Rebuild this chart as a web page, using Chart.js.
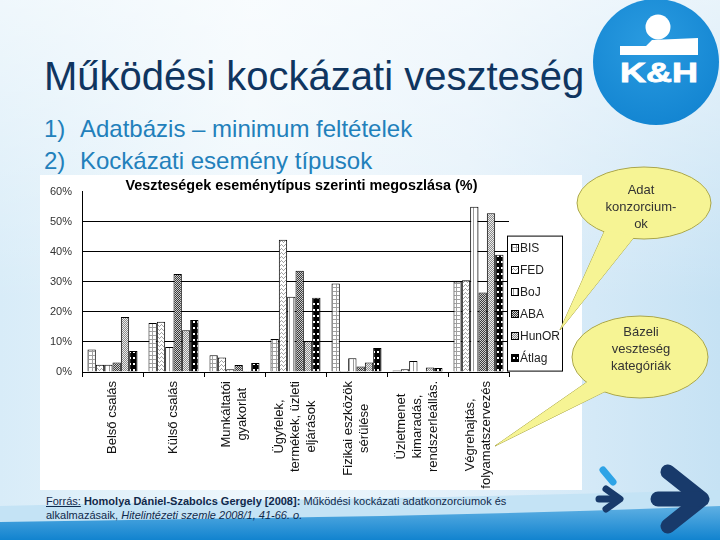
<!DOCTYPE html>
<html><head><meta charset="utf-8">
<script src="https://cdn.jsdelivr.net/npm/chart.js@4/dist/chart.umd.min.js"></script>
<style>
body{margin:0;}
#slide{position:relative;width:720px;height:540px;overflow:hidden;font-family:'Liberation Sans',Arial,sans-serif;
background:linear-gradient(90deg,#d8ecf8 0%,#eef7fc 35%,#e2f0fa 65%,#c6e2f4 100%);}
.abs{position:absolute;white-space:nowrap;}
</style></head>
<body>
<div id="slide">
<svg class="abs" style="left:0;top:0" width="720" height="540">
 <defs>
  <linearGradient id="topfade" x1="0" y1="0" x2="0" y2="1"><stop offset="0" stop-color="#fff" stop-opacity="0.6"/><stop offset="1" stop-color="#fff" stop-opacity="0"/></linearGradient>
  <linearGradient id="band" x1="0" y1="0" x2="0" y2="1"><stop offset="0" stop-color="#5fb0e3"/><stop offset="1" stop-color="#1183cf"/></linearGradient>
  <radialGradient id="logo" cx="0.45" cy="0.35" r="0.7"><stop offset="0" stop-color="#2a9be0"/><stop offset="1" stop-color="#1284d1"/></radialGradient>
 </defs>
 <rect x="0" y="0" width="720" height="300" fill="url(#topfade)"/>
 <path d="M0,506 C220,500 460,498 720,490 L720,540 L0,540 Z" fill="#c4e3f5"/>
 <path d="M0,522 C250,518 480,516 720,506 L720,540 L0,540 Z" fill="url(#band)"/>
 <circle cx="656" cy="62" r="63" fill="url(#logo)"/>
 <circle cx="658" cy="27" r="12.5" fill="#fff"/>
 <path d="M620,46 L646,46 L652,40 L698,38 L698,55 L620,55 Z" fill="#fff"/>
 <text x="659" y="82" font-size="27" font-weight="bold" fill="#fff" text-anchor="middle" textLength="78" lengthAdjust="spacingAndGlyphs" font-family="Liberation Sans, Arial, sans-serif" stroke="#fff" stroke-width="0.8">K&amp;H</text>
 <g stroke="#183a6b" stroke-width="15" stroke-linecap="round" stroke-linejoin="round" fill="none">
  <path d="M668,472 L702,499 L668,526"/>
  <path d="M658,499 L698,499"/>
 </g>
 <path d="M603,470 L613,482" stroke="#2ea3e6" stroke-width="7" stroke-linecap="round"/>
 <g stroke="#183a6b" stroke-width="7" stroke-linecap="round" stroke-linejoin="round" fill="none">
  <path d="M606,489 L620,499 L606,509"/>
  <path d="M599,499 L617,499"/>
 </g>
</svg>

<div class="abs" style="left:44px;top:56px;font-size:40px;line-height:40px;color:#0f3560;">Működési kockázati veszteség</div>
<div class="abs" style="left:44px;top:117px;font-size:24px;line-height:24px;color:#2280bb;">1)</div>
<div class="abs" style="left:80px;top:117px;font-size:24px;line-height:24px;color:#2280bb;">Adatbázis – minimum feltételek</div>
<div class="abs" style="left:44px;top:149px;font-size:24px;line-height:24px;color:#2280bb;">2)</div>
<div class="abs" style="left:80px;top:149px;font-size:24px;line-height:24px;color:#2280bb;">Kockázati esemény típusok</div>

<div class="abs" style="left:40px;top:175px;width:542px;height:315px;background:#fff;">
 <canvas id="c" width="542" height="315"></canvas>
</div>

<div class="abs" style="left:46px;top:494px;font-size:11px;line-height:14px;color:#10294b;">
 <span style="text-decoration:underline">Forrás:</span> <b>Homolya Dániel-Szabolcs Gergely [2008]:</b> Működési kockázati adatkonzorciumok és<br>
 alkalmazásaik, <i>Hitelintézeti szemle 2008/1, 41-66. o.</i>
</div>

<svg class="abs" style="left:0;top:0" width="720" height="540">
 <g fill="#f6f494" stroke="#a9a54a" stroke-width="1">
  <path d="M605,230 L560,330 L635,236 Z"/>
  <ellipse cx="644" cy="203" rx="67" ry="36"/>
  <ellipse cx="644" cy="203" rx="66" ry="35" stroke="none"/>
  <path d="M605,230 L560,330 L635,236 Z" stroke="none"/>
  <path d="M590,380 L495,446 L612,388 Z"/>
  <ellipse cx="640" cy="357" rx="68" ry="41"/>
  <ellipse cx="640" cy="357" rx="67" ry="40" stroke="none"/>
  <path d="M590,380 L495,446 L612,388 Z" stroke="none"/>
 </g>
 <g font-family="Liberation Sans, Arial, sans-serif" font-size="13" fill="#333" text-anchor="middle">
  <text x="641" y="194">Adat</text>
  <text x="641" y="211">konzorcium-</text>
  <text x="641" y="228">ok</text>
  <text x="641" y="336">Bázeli</text>
  <text x="641" y="353">veszteség</text>
  <text x="641" y="370">kategóriák</text>
 </g>
</svg>
</div>

<script>
// ---- data ----
const categories = [
  ["Belső csalás"],
  ["Külső csalás"],
  ["Munkáltatói", "gyakorlat"],
  ["Ügyfelek,", "termékek, üzleti", "eljárások"],
  ["Fizikai eszközök", "sérülése"],
  ["Üzletmenet", "kimaradás,", "rendszerleállás."],
  ["Végrehajtás,", "folyamatszervezés"]
];
const seriesNames = ["BIS", "FED", "BoJ", "ABA", "HunOR", "Átlag"];
const valBIS   = [7.5, 16.3, 5.6, 11.0, 29.4, 0.5, 30.1];
const valFED   = [2.4, 16.7, 4.8, 44.0, 0.3, 0.9, 30.5];
const valBoJ   = [2.4, 8.3, 0.9, 25.0, 4.6, 3.7, 55.0];
const valABA   = [3.2, 32.6, 2.3, 33.7, 1.8, 0.2, 26.4];
const valHunOR = [18.3, 13.9, 0.3, 10.2, 3.2, 1.5, 52.8];
const valAtlag = [7.0, 17.3, 3.0, 24.7, 8.0, 1.3, 39.0];
const yMin = 0, yMax = 60, yStep = 10;
const chartTitle = "Veszteségek eseménytípus szerinti megoszlása (%)";

// ---- patterns ----
const canvas = document.getElementById('c');
const mainCtx = canvas.getContext('2d');
function pat(w, h, draw) {
  const t = document.createElement('canvas'); t.width = w; t.height = h;
  const g = t.getContext('2d'); draw(g);
  return mainCtx.createPattern(t, 'repeat');
}
const patterns = [
  pat(4, 4, g => { g.fillStyle = '#fff'; g.fillRect(0,0,4,4); g.fillStyle = '#a0a0a0'; g.fillRect(0,0,4,1); g.fillRect(0,0,1,4); }),
  pat(4, 4, g => { g.fillStyle = '#fff'; g.fillRect(0,0,4,4); g.fillStyle = '#a4a4a4';
      [[0,2],[1,1],[2,2],[3,3]].forEach(p => g.fillRect(p[0],p[1],1,1)); }),
  pat(4, 1, g => { g.fillStyle = '#fff'; g.fillRect(0,0,4,1); g.fillStyle = '#9a9a9a'; g.fillRect(1,0,1,1); }),
  pat(2, 2, g => { g.fillStyle = '#cfcfcf'; g.fillRect(0,0,2,2); g.fillStyle = '#3a3a3a'; g.fillRect(0,0,1,1); g.fillRect(1,1,1,1); }),
  pat(2, 2, g => { g.fillStyle = '#ececec'; g.fillRect(0,0,2,2); g.fillStyle = '#8c8c8c'; g.fillRect(0,0,1,1); g.fillRect(1,1,1,1); }),
  pat(4, 6, g => { g.fillStyle = '#000'; g.fillRect(0,0,4,6); g.fillStyle = '#fff'; g.fillRect(1,2,2,2); })
];
const seriesValues = [valBIS, valFED, valBoJ, valABA, valHunOR, valAtlag];

const FONT = "'Liberation Sans', Arial, sans-serif";
Chart.defaults.font.family = FONT;

const decor = {
  id: 'decor',
  afterDraw(chart) {
    const ctx = chart.ctx, xs = chart.scales.x, ca = chart.chartArea;
    ctx.save();
    // title
    ctx.font = "bold 14.4px " + FONT; ctx.fillStyle = '#000';
    ctx.textAlign = 'center'; ctx.textBaseline = 'middle';
    ctx.fillText(chartTitle, (ca.left + ca.right) / 2 + 6, 11);
    // x labels (rotated, centered lines)
    ctx.font = "13px " + FONT; ctx.fillStyle = '#111';
    categories.forEach((lines, i) => {
      const cx = xs.getPixelForValue(i);
      const n = lines.length, lh = 16;
      const L = Math.max(...lines.map(s => ctx.measureText(s).width));
      const cy = xs.top + 9 + L / 2;
      lines.forEach((s, j) => {
        const x = cx + (j - (n - 1) / 2) * lh;
        ctx.save(); ctx.translate(x, cy); ctx.rotate(-Math.PI / 2);
        ctx.textAlign = 'center'; ctx.textBaseline = 'middle';
        ctx.fillText(s, 0, 0); ctx.restore();
      });
    });
    // legend box
    const x0 = ca.right - 2, y0 = ca.top + 44, w = 55, h = 135;
    ctx.fillStyle = '#fff'; ctx.fillRect(x0, y0, w, h);
    ctx.strokeStyle = '#000'; ctx.lineWidth = 1; ctx.strokeRect(x0 + 0.5, y0 + 0.5, w, h);
    ctx.font = "12px " + FONT; ctx.textAlign = 'left'; ctx.textBaseline = 'middle';
    chart.data.datasets.forEach((ds, i) => {
      const y = Math.round(y0 + 12.7 + 22 * i);
      ctx.fillStyle = ds.backgroundColor; ctx.fillRect(x0 + 5, y - 3, 6, 6);
      ctx.strokeStyle = '#000'; ctx.strokeRect(x0 + 4.5, y - 3.5, 7, 7);
      ctx.fillStyle = '#222'; ctx.fillText(ds.label, x0 + 13, y + 0.5);
    });
    ctx.restore();
  }
};

new Chart(canvas, {
  type: 'bar',
  data: {
    labels: categories,
    datasets: seriesNames.map((name, i) => ({
      label: name,
      data: seriesValues[i],
      backgroundColor: patterns[i],
      borderColor: '#000',
      borderWidth: 1,
      categoryPercentage: 0.82,
      barPercentage: 1.0
    }))
  },
  options: {
    responsive: false,
    devicePixelRatio: 1,
    animation: false,
    layout: { padding: { top: 16, right: 73, left: 0, bottom: 0 } },
    plugins: { legend: { display: false }, title: { display: false }, tooltip: { enabled: false } },
    scales: {
      x: {
        ticks: { display: false },
        grid: { display: true, drawOnChartArea: false, drawTicks: true, tickLength: 5, color: '#000', offset: true },
        border: { display: true, color: '#000', width: 1 },
        afterFit(s) { s.height = 118; }
      },
      y: {
        min: yMin, max: yMax,
        ticks: { stepSize: yStep, callback: v => v + '%', color: '#333', font: { size: 11 }, padding: 10 },
        grid: { drawTicks: false, color: c => (c.tick && c.tick.value === yMax) ? 'rgba(0,0,0,0)' : '#000', lineWidth: 1 },
        border: { display: true, color: '#000', width: 1 },
        afterFit(s) { s.width = 42; }
      }
    }
  },
  plugins: [decor]
});
</script>
</body></html>
